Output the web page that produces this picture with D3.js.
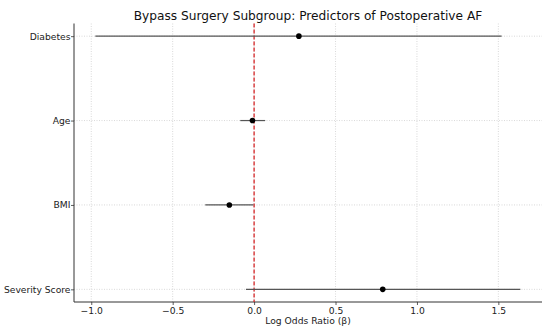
<!DOCTYPE html>
<html lang="en">
<head>
    <meta charset="UTF-8">
    <title>Bypass Surgery Subgroup: Predictors of Postoperative AF</title>
    <script src="https://d3js.org/d3.v7.min.js"></script>
    <style>
        body {
            margin: 0;
            padding: 0;
            background: #fff;
            font-family: "DejaVu Sans", sans-serif;
        }
    </style>
</head>
<body>
    <div id="chart"></div>
    <script>
        // Predictors and their estimates (log odds ratio with CI)
        const predictors = ["Diabetes", "Age", "BMI", "Severity Score"];
        const beta = [0.275, -0.01, -0.152, 0.79];
        const ciLow = [-0.975, -0.085, -0.30, -0.05];
        const ciHigh = [1.52, 0.068, -0.004, 1.635];
        const xTicks = [-1.0, -0.5, 0.0, 0.5, 1.0, 1.5];

        const width = 550, height = 330;
        const margin = { top: 23.5, right: 8, bottom: 28, left: 74 };

        const svg = d3.select("#chart")
            .append("svg")
            .attr("width", width)
            .attr("height", height);

        const x = d3.scaleLinear()
            .domain([-1.106, 1.768])
            .range([margin.left, width - margin.right]);

        // categories at 0..3 with matplotlib-like 0.15 padding
        const y = d3.scaleLinear()
            .domain([-0.15, 3.15])
            .range([margin.top, height - margin.bottom]);

        const plotTop = margin.top, plotBottom = height - margin.bottom;

        // grid
        svg.append("g")
            .selectAll("line")
            .data(xTicks)
            .enter()
            .append("line")
            .attr("x1", d => x(d)).attr("x2", d => x(d))
            .attr("y1", plotTop).attr("y2", plotBottom)
            .attr("stroke", "#cfcfcf")
            .attr("stroke-width", 0.8)
            .attr("stroke-dasharray", "1,1.5");

        svg.append("g")
            .selectAll("line")
            .data(predictors)
            .enter()
            .append("line")
            .attr("x1", margin.left).attr("x2", width - margin.right)
            .attr("y1", (d, i) => y(i)).attr("y2", (d, i) => y(i))
            .attr("stroke", "#cfcfcf")
            .attr("stroke-width", 0.8)
            .attr("stroke-dasharray", "1,1.5");

        // axes
        const xAxis = svg.append("g")
            .attr("transform", `translate(0,${plotBottom})`)
            .call(d3.axisBottom(x)
                .tickValues(xTicks)
                .tickSize(3)
                .tickPadding(2)
                .tickFormat(d => d3.format(".1f")(d).replace("-", "\u2212")));

        const yAxis = svg.append("g")
            .attr("transform", `translate(${margin.left},0)`)
            .call(d3.axisLeft(y)
                .tickValues(d3.range(predictors.length))
                .tickSize(3)
                .tickPadding(0.5)
                .tickFormat(i => predictors[i]));

        [xAxis, yAxis].forEach(g => {
            g.select(".domain").remove();
            g.selectAll(".tick line").attr("stroke", "#333").attr("stroke-width", 0.8);
            g.selectAll(".tick text")
                .attr("fill", "#222")
                .style("font-family", "DejaVu Sans")
                .style("font-size", "9.2px");
        });

        // spines (left and bottom only)
        svg.append("line")
            .attr("x1", margin.left).attr("x2", margin.left)
            .attr("y1", plotTop).attr("y2", plotBottom)
            .attr("stroke", "#333").attr("stroke-width", 1);
        svg.append("line")
            .attr("x1", margin.left).attr("x2", width - margin.right)
            .attr("y1", plotBottom).attr("y2", plotBottom)
            .attr("stroke", "#333").attr("stroke-width", 1);

        // reference line at zero
        svg.append("line")
            .attr("x1", x(0)).attr("x2", x(0))
            .attr("y1", plotTop).attr("y2", plotBottom)
            .attr("stroke", "#d62728")
            .attr("stroke-width", 1.3)
            .attr("stroke-dasharray", "4,2");

        // error bars
        svg.append("g")
            .selectAll("line")
            .data(predictors)
            .enter()
            .append("line")
            .attr("x1", (d, i) => x(ciLow[i]))
            .attr("x2", (d, i) => x(ciHigh[i]))
            .attr("y1", (d, i) => y(i))
            .attr("y2", (d, i) => y(i))
            .attr("stroke", "#555")
            .attr("stroke-width", 1.2);

        // point estimates
        svg.append("g")
            .selectAll("circle")
            .data(predictors)
            .enter()
            .append("circle")
            .attr("cx", (d, i) => x(beta[i]))
            .attr("cy", (d, i) => y(i))
            .attr("r", 2.8)
            .attr("fill", "#000");

        // title
        svg.append("text")
            .attr("x", (margin.left + width - margin.right) / 2)
            .attr("y", 19.5)
            .attr("text-anchor", "middle")
            .style("font-size", "12.2px")
            .attr("fill", "#111")
            .text("Bypass Surgery Subgroup: Predictors of Postoperative AF");

        // x label
        svg.append("text")
            .attr("x", (margin.left + width - margin.right) / 2)
            .attr("y", 323.5)
            .attr("text-anchor", "middle")
            .style("font-size", "9.2px")
            .attr("fill", "#222")
            .text("Log Odds Ratio (\u03b2)");
    </script>
</body>
</html>
